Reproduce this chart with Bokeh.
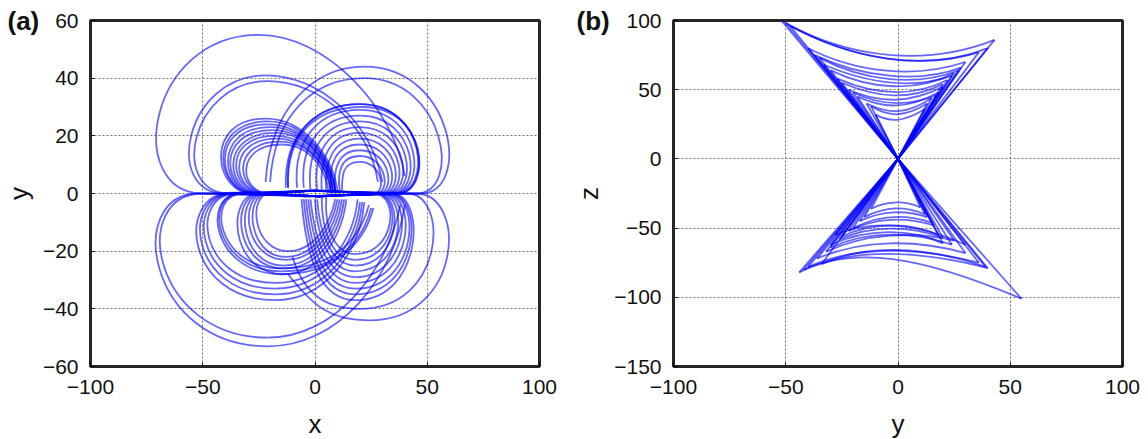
from bokeh.plotting import figure
from bokeh.layouts import row
from bokeh.models import FixedTicker
from bokeh.embed import file_html
from bokeh.resources import INLINE

# ---------------- panel (a): x-y projection, loops ----------------
#            xs  ys   xf   c1x  c2x   xt   yt   c3x  c4x  c4y   xe   ye
ul_outer = [(5, 1, -50, -85, -75, -25, 55, 5, 35, 30, 40, 6)]
ul_second = [(4, 1, -40, -68, -58, -22, 41, 2, 25, 25, 30, 4),
             (3, 1, -38, -65, -56, -21, 39, 2, 24, 24, 28, 4)]
ul_arches = [(0, 1, -28, -45, -50, -22, 26, -4, 8, 12, 10, 1),
             (0, 1, -27, -44, -49, -21, 25, -4, 8, 11, 9, 1),
             (0, 1, -27, -43, -48, -21, 24, -4, 8, 11, 9, 1),
             (0, 1, -26, -42, -46, -20, 23, -3, 7, 10, 9, 1),
             (0, 1, -25, -41, -45, -19, 22, -3, 7, 10, 8, 1),
             (0, 1, -24, -40, -43, -18, 21, -2, 7, 9, 8, 1),
             (0, 1, -23, -38, -42, -18, 20, -2, 6, 9, 8, 1),
             (0, 1, -22, -37, -40, -17, 19, -2, 6, 8, 7, 1),
             (0, 1, -21, -35, -38, -16, 18, -1, 6, 8, 7, 1),
             (0, 1, -20, -34, -36, -15, 17, -1, 5, 7, 6, 1)]
ur_outer = [(-5, -1, 47, 70, 62, 22, 44, 0, -20, 30, -22, 4),
            (-5, -1, 45, 66, 58, 22, 40, 0, -18, 28, -20, 4)]
ur_dense = [(-5, -1, 36, 52, 50, 20, 31, 2, -14, 22, -12, 2),
            (-4, -1, 36, 53, 50, 20, 31, 1, -14, 21, -13, 2),
            (-6, -1, 37, 52, 51, 21, 30, 2, -13, 22, -12, 2),
            (-3, -1, 35, 50, 48, 20, 29, 3, -10, 20, -8, 2),
            (-2, -1, 34, 48, 46, 20, 27, 4, -7, 18, -5, 2),
            (-1, -1, 33, 46, 44, 20, 25, 5, -4, 16, -2, 1),
            (0, -1, 32, 44, 42, 20, 23, 6, -1, 14, 1, 1),
            (0, -1, 31, 42, 40, 20, 21, 7, 2, 13, 3, 1),
            (0, -1, 30, 40, 38, 20, 19, 8, 4, 11, 5, 1),
            (0, -1, 29, 38, 36, 20, 17, 9, 6, 10, 7, 1),
            (0, -1, 28, 36, 34, 20, 15, 10, 8, 8, 9, 1),
            (0, -1, 27, 34, 32, 20, 13, 11, 10, 7, 11, 1),
            (0, -1, 26, 32, 30, 20, 11, 12, 12, 6, 12, 1)]
ll_outer = [(5, -1, -52, -85, -75, -21, -53, 10, 35, -30, 40, -4),
            (5, -1, -50, -83, -73, -21, -50, 8, 32, -28, 38, -4)]
ll_middle = [(3, -1, -38, -62, -58, -18, -37, 5, 20, -20, 22, -3),
             (3, -1, -37, -60, -56, -18, -35, 5, 19, -19, 21, -3),
             (3, -1, -36, -58, -54, -18, -33, 4, 18, -18, 20, -3),
             (3, -1, -35, -56, -52, -18, -31, 4, 17, -17, 19, -2)]
ll_inner = [(2, -1, -25, -40, -38, -14, -28, 2, 12, -15, 14, -2),
            (2, -1, -24, -38, -36, -14, -26, 2, 11, -14, 13, -2),
            (2, -1, -23, -36, -34, -14, -25, 1, 10, -13, 12, -2),
            (2, -1, -22, -34, -32, -13, -23, 1, 9, -12, 11, -2),
            (2, -1, -21, -32, -30, -13, -22, 0, 8, -11, 10, -2),
            (2, -1, -20, -30, -28, -12, -20, 0, 7, -10, 9, -2)]
ll_dark = [(4, -1, -33, -50, -45, -15, -27, 5, 20, -20, 25, -5),
           (4, -1, -33, -51, -46, -15, -28, 5, 21, -20, 26, -5),
           (4, -1, -32, -49, -44, -15, -26, 4, 19, -19, 24, -4)]
lr_outer = [(-5, 1, 45, 68, 66, 24, -44, 8, 0, -40, -12, -28),
            (-5, 1, 41, 60, 58, 20, -40, 5, -5, -35, -10, -22)]
lr_dense = [(-4, 1, 34, 50, 48, 18, -37, 2, -4, -22, -6, -2),
            (-3, 1, 33, 49, 47, 18, -35, 3, -3, -21, -5, -2),
            (-2, 1, 32, 48, 46, 18, -33, 4, -2, -20, -4, -2),
            (-1, 1, 31, 46, 44, 18, -31, 5, -1, -18, -3, -2),
            (0, 1, 30, 44, 42, 18, -29, 6, 0, -17, -2, -2),
            (0, 1, 29, 42, 40, 18, -27, 7, 1, -16, 0, -2),
            (0, 1, 28, 40, 38, 18, -25, 8, 2, -15, 1, -2),
            (0, 1, 27, 39, 37, 18, -23, 8, 3, -14, 3, -1),
            (0, 1, 26, 38, 36, 18, -21, 9, 4, -12, 5, -1)]

# ---------------- panel (b): y-z projection, loops ----------------
#            ltx  ltz  c1x  c1z  c2x  c2z  rtx  rtz
b_upper = [(-52, 100, -20, 70, 15, 68, 43, 86),
           (-50, 98, -22, 72, 12, 62, 40, 80),
           (-48, 96, -20, 72, 10, 64, 36, 77),
           (-40, 80, -18, 62, 8, 58, 30, 70),
           (-37, 75, -15, 58, 10, 55, 28, 66),
           (-35, 73, -15, 56, 8, 52, 27, 64),
           (-33, 68, -14, 55, 6, 50, 24, 60),
           (-30, 64, -12, 50, 8, 48, 25, 62),
           (-27, 58, -10, 46, 6, 44, 22, 57),
           (-25, 55, -9, 44, 5, 42, 20, 54),
           (-22, 50, -8, 40, 5, 40, 20, 52),
           (-20, 48, -7, 38, 5, 38, 17, 46),
           (-18, 45, -6, 36, 4, 36, 18, 48),
           (-14, 40, -4, 32, 4, 32, 15, 44),
           (-12, 38, -4, 30, 3, 30, 13, 40),
           (-10, 32, -3, 26, 3, 27, 12, 36)]
b_lower = [(-44, -82, -20, -62, 10, -70, 55, -101),
           (-42, -80, -20, -64, 10, -66, 40, -79),
           (-40, -78, -18, -62, 10, -64, 36, -75),
           (-36, -72, -16, -58, 8, -58, 30, -68),
           (-34, -76, -15, -62, 10, -62, 39, -78),
           (-32, -67, -15, -54, 8, -52, 25, -59),
           (-30, -64, -14, -52, 6, -52, 24, -62),
           (-30, -62, -14, -50, 6, -50, 20, -61),
           (-28, -55, -12, -44, 8, -46, 30, -62),
           (-26, -58, -12, -48, 5, -48, 20, -57),
           (-25, -56, -12, -46, 5, -45, 18, -55),
           (-22, -52, -10, -42, 4, -42, 16, -48),
           (-20, -50, -8, -40, 4, -40, 15, -46),
           (-17, -45, -7, -37, 4, -37, 13, -42),
           (-15, -42, -5, -34, 3, -34, 12, -40),
           (-12, -36, -4, -30, 3, -30, 10, -35)]

x_ticks = [-100, -50, 0, 50, 100]
ya_ticks = [-60, -40, -20, 0, 20, 40, 60]
zb_ticks = [-150, -100, -50, 0, 50, 100]
panel_tags = ["(a)", "(b)"]

BLUE = "#0000ff"
FONT = "Liberation Sans"
LW = 1.8
LA = 0.6


def make_fig(x_range, y_range, yt, left, right, xlabel, ylabel, ylab_standoff, tag, tag_offset):
    p = figure(x_range=x_range, y_range=y_range, frame_width=449, frame_height=346,
               min_border_left=left, min_border_right=right, min_border_top=20,
               min_border_bottom=67, output_backend="svg", toolbar_location=None,
               background_fill_color="white", border_fill_color="white")
    p.outline_line_color = "black"
    p.outline_line_width = 3
    p.outline_line_alpha = 0.85
    for ax, ticks in ((p.xaxis, x_ticks), (p.yaxis, yt)):
        ax.ticker = FixedTicker(ticks=ticks)
        ax.axis_line_color = None
        ax.major_tick_in = 4
        ax.major_tick_out = 0
        ax.major_tick_line_color = "black"
        ax.minor_tick_line_color = None
        ax.major_label_text_font = FONT
        ax.major_label_text_font_size = "21px"
        ax.major_label_text_color = "#111111"
        ax.axis_label_text_font = FONT
        ax.axis_label_text_font_size = "26px"
        ax.axis_label_text_font_style = "normal"
        ax.axis_label_text_color = "#111111"
    p.xaxis.major_label_standoff = 13
    p.yaxis.major_label_standoff = 12
    p.xaxis.axis_label_standoff = 12
    p.yaxis.axis_label_standoff = ylab_standoff
    p.xaxis.axis_label = xlabel
    p.yaxis.axis_label = ylabel
    for g in (p.xgrid, p.ygrid):
        g.grid_line_color = "#333333"
        g.grid_line_dash = "2 2"
        g.grid_line_alpha = 0.7
        g.grid_line_width = 1
    p.xgrid.ticker = FixedTicker(ticks=x_ticks)
    p.ygrid.ticker = FixedTicker(ticks=yt)
    # panel tag "(a)" / "(b)" as a left-aligned title shifted into the left margin
    p.title.text = tag
    p.title.align = "left"
    p.title.offset = tag_offset
    p.title.text_font = FONT
    p.title.text_font_size = "26px"
    p.title.text_font_style = "bold"
    p.title.text_color = "#111111"
    p.title.text_line_height = 0.7
    try:
        p.title.standoff = -30
    except Exception:
        p.title.standoff = 0
    return p


style = dict(line_color=BLUE, line_alpha=LA, line_width=LW)

# ---- panel (a)
pa = make_fig((-100, 100), (-60, 60), ya_ticks, 90, 21, "x", "y", 6, panel_tags[0], -83)
loops = (ul_outer + ul_second + ul_arches + ur_outer + ur_dense + ll_outer +
         ll_middle + ll_inner + ll_dark + lr_outer + lr_dense)
c = {k: [lp[i] for lp in loops] for i, k in enumerate(
    ["xs", "ys", "xf", "c1x", "c2x", "xt", "yt", "c3x", "c4x", "c4y", "xe", "ye"])}
zeros = [0] * len(loops)
pa.segment(x0=c["xs"], y0=c["ys"], x1=c["xf"], y1=zeros, **style)
pa.bezier(x0=c["xf"], y0=zeros, cx0=c["c1x"], cy0=zeros, cx1=c["c2x"], cy1=c["yt"],
          x1=c["xt"], y1=c["yt"], **style)
pa.bezier(x0=c["xt"], y0=c["yt"], cx0=c["c3x"], cy0=c["yt"], cx1=c["c4x"], cy1=c["c4y"],
          x1=c["xe"], y1=c["ye"], **style)

# ---- panel (b)
pb = make_fig((-100, 100), (-150, 100), zb_ticks, 113, 20, "y", "z", 7, panel_tags[1], -97)
bl = b_upper + b_lower
b = {k: [lp[i] for lp in bl] for i, k in enumerate(
    ["ltx", "ltz", "c1x", "c1z", "c2x", "c2z", "rtx", "rtz"])}
bz = [0] * len(bl)
pb.segment(x0=bz, y0=bz, x1=b["ltx"], y1=b["ltz"], **style)
pb.segment(x0=b["rtx"], y0=b["rtz"], x1=bz, y1=bz, **style)
pb.bezier(x0=b["ltx"], y0=b["ltz"], cx0=b["c1x"], cy0=b["c1z"], cx1=b["c2x"], cy1=b["c2z"],
          x1=b["rtx"], y1=b["rtz"], **style)

layout = row(pa, pb, spacing=0)
open("out.html", "w").write(file_html(layout, INLINE))
